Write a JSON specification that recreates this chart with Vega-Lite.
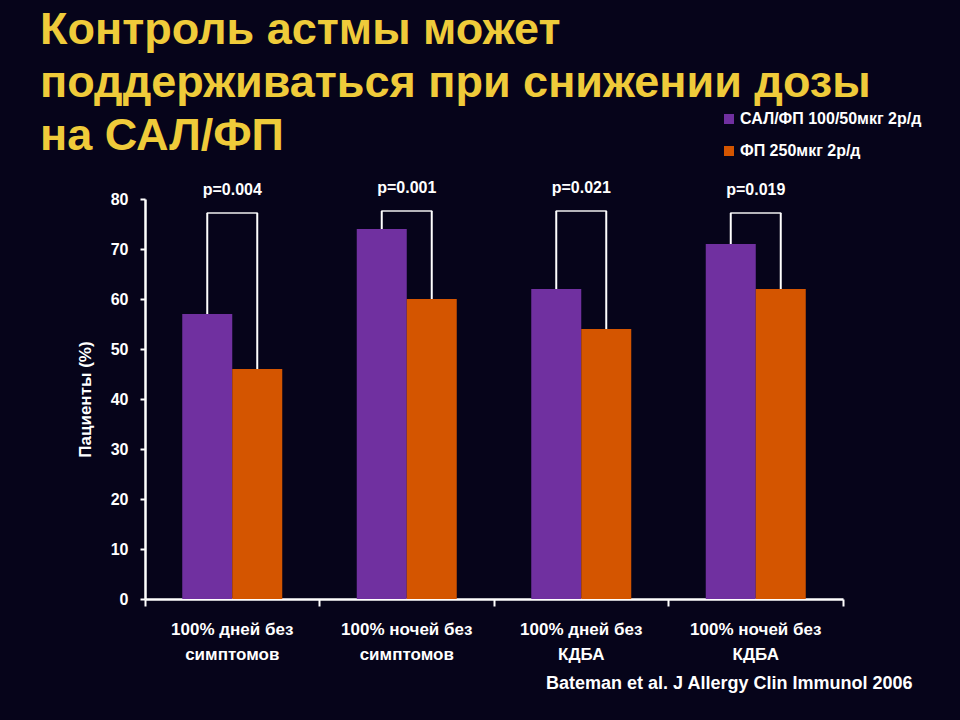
{
  "$schema": "https://vega.github.io/schema/vega-lite/v6.json",
  "autosize": "none",
  "width": 698,
  "height": 400,
  "padding": {"left": 145, "top": 199, "right": 117, "bottom": 121},
  "background": "#06041A",
  "config": {
    "view": {"stroke": null},
    "font": "Liberation Sans"
  },
  "title": {
    "text": ["Контроль астмы может", "поддерживаться при снижении дозы", "на САЛ/ФП"],
    "anchor": "start",
    "frame": "group",
    "orient": "top",
    "dx": -105,
    "dy": 48,
    "font": "Liberation Sans",
    "fontSize": 45,
    "fontWeight": "bold",
    "color": "#EFCB3A",
    "lineHeight": 53,
    "offset": 0
  },
  "data": {
    "values": [
      {"cat": "100% дней без|симптомов", "series": "САЛ/ФП 100/50мкг 2р/д", "value": 57, "top": 77.2, "p": "p=0.004"},
      {"cat": "100% дней без|симптомов", "series": "ФП 250мкг 2р/д", "value": 46, "top": 77.2, "p": "p=0.004"},
      {"cat": "100% ночей без|симптомов", "series": "САЛ/ФП 100/50мкг 2р/д", "value": 74, "top": 77.6, "p": "p=0.001"},
      {"cat": "100% ночей без|симптомов", "series": "ФП 250мкг 2р/д", "value": 60, "top": 77.6, "p": "p=0.001"},
      {"cat": "100% дней без|КДБА", "series": "САЛ/ФП 100/50мкг 2р/д", "value": 62, "top": 77.6, "p": "p=0.021"},
      {"cat": "100% дней без|КДБА", "series": "ФП 250мкг 2р/д", "value": 54, "top": 77.6, "p": "p=0.021"},
      {"cat": "100% ночей без|КДБА ", "series": "САЛ/ФП 100/50мкг 2р/д", "value": 71, "top": 77.2, "p": "p=0.019"},
      {"cat": "100% ночей без|КДБА ", "series": "ФП 250мкг 2р/д", "value": 62, "top": 77.2, "p": "p=0.019"}
    ]
  },
  "encoding": {
    "x": {
      "field": "cat",
      "type": "nominal",
      "sort": null,
      "scale": {"paddingInner": 0, "paddingOuter": 0},
      "axis": {
        "title": "Bateman et al. J Allergy Clin Immunol 2006",
        "titleFont": "Liberation Sans",
        "titleFontSize": 18,
        "titleFontWeight": "bold",
        "titleColor": "#FFFFFF",
        "titleAnchor": "end",
        "titleAlign": "right",
        "titleX": 767,
        "titleY": 89,
        "titleBaseline": "alphabetic",
        "labelAngle": 0,
        "labelExpr": "split(datum.label, '|')",
        "labelFont": "Liberation Sans",
        "labelFontSize": 17,
        "labelFontWeight": "bold",
        "labelColor": "#FFFFFF",
        "labelLineHeight": 25,
        "labelPadding": 15,
        "labelBaseline": "top",
        "bandPosition": 1,
        "tickExtra": true,
        "labelOffset": 0,
        "tickSize": 7,
        "tickWidth": 2,
        "tickColor": "#FFFFFF",
        "domainColor": "#FFFFFF",
        "domainWidth": 2.5,
        "grid": false
      }
    },
    "y": {
      "field": "value",
      "type": "quantitative",
      "scale": {"domain": [0, 80], "nice": false},
      "axis": {
        "title": "Пациенты (%)",
        "titleFont": "Liberation Sans",
        "titleFontSize": 17,
        "titleFontWeight": "bold",
        "titleColor": "#FFFFFF",
        "titlePadding": 16,
        "values": [0, 10, 20, 30, 40, 50, 60, 70, 80],
        "labelFont": "Liberation Sans",
        "labelFontSize": 16,
        "labelFontWeight": "bold",
        "labelColor": "#FFFFFF",
        "labelPadding": 12,
        "tickSize": 5,
        "tickWidth": 2,
        "tickColor": "#FFFFFF",
        "domainColor": "#FFFFFF",
        "domainWidth": 2.5,
        "grid": false
      }
    }
  },
  "layer": [
    {
      "mark": {"type": "bar"},
      "encoding": {
        "xOffset": {
          "field": "series",
          "type": "nominal",
          "sort": null,
          "scale": {"paddingInner": 0, "paddingOuter": 0.745}
        },
        "color": {
          "field": "series",
          "type": "nominal",
          "sort": null,
          "scale": {"range": ["#7030A0", "#D45500"]},
          "legend": {
            "title": null,
            "orient": "none",
            "legendX": 576,
            "legendY": -88,
            "symbolType": "square",
            "symbolSize": 100,
            "symbolStrokeWidth": 0,
            "labelFont": "Liberation Sans",
            "labelFontSize": 16,
            "labelFontWeight": "bold",
            "labelColor": "#FFFFFF",
            "labelOffset": 3,
            "rowPadding": 16,
            "labelLimit": 400
          }
        }
      }
    },
    {
      "mark": {"type": "rule", "color": "#FFFFFF", "strokeWidth": 2},
      "encoding": {
        "xOffset": {
          "field": "series",
          "type": "nominal",
          "sort": null,
          "scale": {"paddingInner": 0, "paddingOuter": 0.745}
        },
        "y2": {"field": "top"}
      }
    },
    {
      "transform": [{"filter": "datum.series == 'САЛ/ФП 100/50мкг 2р/д'"}],
      "mark": {"type": "tick", "color": "#FFFFFF", "size": 51, "thickness": 2, "orient": "horizontal"},
      "encoding": {
        "y": {"field": "top", "type": "quantitative"}
      }
    },
    {
      "transform": [{"filter": "datum.series == 'САЛ/ФП 100/50мкг 2р/д'"}],
      "mark": {"type": "text", "color": "#FFFFFF", "font": "Liberation Sans", "fontSize": 16, "fontWeight": "bold", "dy": -23, "baseline": "middle"},
      "encoding": {
        "y": {"field": "top", "type": "quantitative"},
        "text": {"field": "p"}
      }
    }
  ]
}
